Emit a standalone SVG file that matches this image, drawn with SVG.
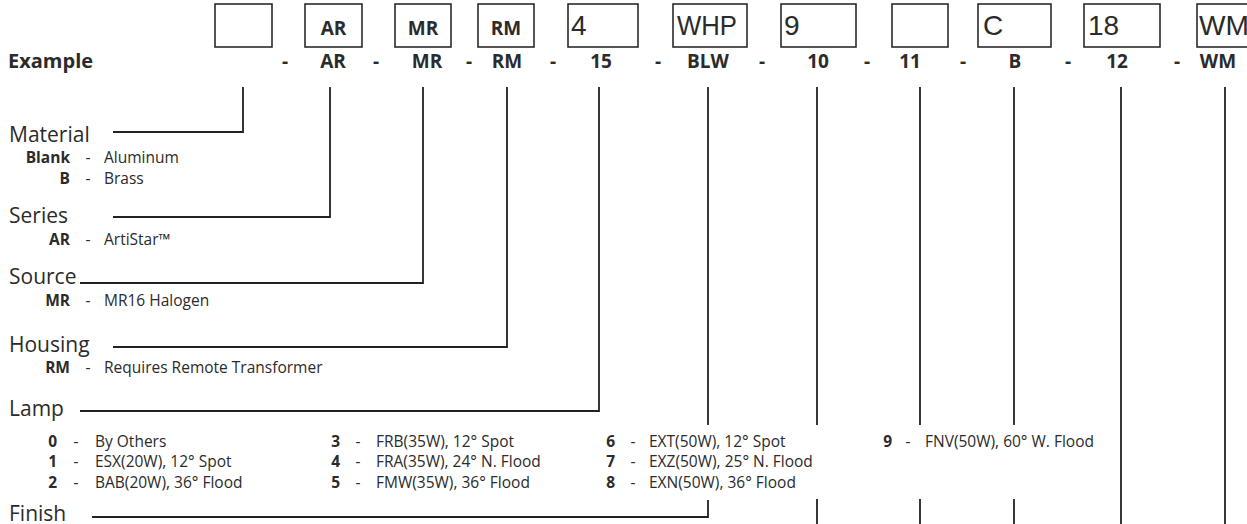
<svg xmlns="http://www.w3.org/2000/svg" width="1247" height="524" viewBox="0 0 1247 524">
<style>
text{font-family:"Open Sans","Noto Sans","Liberation Sans",sans-serif;fill:#2b2b2b}
.box{fill:none;stroke:#2b2b2b;stroke-width:1.6}
.bx{font-size:19px;font-weight:700;text-anchor:middle}
.bf{font-size:28px;font-family:"Liberation Sans",Arial,sans-serif}
.ex{font-size:19px;font-weight:700;text-anchor:middle}
.lbl{font-size:21px}
.code{font-size:15.5px;font-weight:700;text-anchor:end}
.dash{font-size:15.5px;text-anchor:middle}
.opt{font-size:15.5px}
.conn path{fill:none;stroke:#222;stroke-width:1.8}
</style>
<rect width="1247" height="524" fill="#fff"/>
<g id="boxes">
<g id="box-material"><rect class="box" x="215" y="4" width="57" height="43"/></g>
<g id="box-series"><rect class="box" x="305" y="4" width="57" height="43"/><text class="bx" x="333.5" y="35">AR</text></g>
<g id="box-source"><rect class="box" x="395" y="4" width="56" height="43"/><text class="bx" x="423" y="35">MR</text></g>
<g id="box-housing"><rect class="box" x="478" y="4" width="56" height="43"/><text class="bx" x="506" y="35">RM</text></g>
<g id="box-lamp"><rect class="box" x="568" y="4" width="70" height="43"/><text class="bf" x="571" y="35">4</text></g>
<g id="box-finish"><rect class="box" x="673" y="4" width="74" height="43"/><text class="bf" x="677" y="35" textLength="60" lengthAdjust="spacingAndGlyphs">WHP</text></g>
<g id="box-10"><rect class="box" x="781" y="4" width="75" height="43"/><text class="bf" x="784" y="35">9</text></g>
<g id="box-11"><rect class="box" x="892" y="4" width="56" height="43"/></g>
<g id="box-b"><rect class="box" x="978" y="4" width="73" height="43"/><text class="bf" x="983" y="35">C</text></g>
<g id="box-12"><rect class="box" x="1084" y="4" width="76" height="43"/><text class="bf" x="1088" y="35">18</text></g>
<g id="box-wm"><rect class="box" x="1197" y="4" width="56" height="43"/><text class="bf" x="1199" y="35" textLength="50" lengthAdjust="spacingAndGlyphs">WM</text></g>
</g>
<g id="example-row">
<text x="8" y="68" style="font-size:20px;font-weight:700">Example</text>
<text class="ex" x="285" y="68">-</text>
<text class="ex" x="333" y="68">AR</text>
<text class="ex" x="376" y="68">-</text>
<text class="ex" x="427" y="68">MR</text>
<text class="ex" x="469" y="68">-</text>
<text class="ex" x="507" y="68">RM</text>
<text class="ex" x="553" y="68">-</text>
<text class="ex" x="601" y="68">15</text>
<text class="ex" x="658" y="68">-</text>
<text class="ex" x="708" y="68">BLW</text>
<text class="ex" x="762" y="68">-</text>
<text class="ex" x="818" y="68">10</text>
<text class="ex" x="867" y="68">-</text>
<text class="ex" x="910" y="68">11</text>
<text class="ex" x="963" y="68">-</text>
<text class="ex" x="1015" y="68">B</text>
<text class="ex" x="1068" y="68">-</text>
<text class="ex" x="1117" y="68">12</text>
<text class="ex" x="1177" y="68">-</text>
<text class="ex" x="1218" y="68">WM</text>
</g>
<g id="material">
<text class="lbl" x="9" y="142">Material</text>
<text class="code" x="70" y="163">Blank</text><text class="dash" x="88" y="163">-</text><text class="opt" x="104" y="163">Aluminum</text>
<text class="code" x="70" y="184">B</text><text class="dash" x="88" y="184">-</text><text class="opt" x="104" y="184">Brass</text>
</g>
<g id="series">
<text class="lbl" x="9" y="223">Series</text>
<text class="code" x="70" y="245">AR</text><text class="dash" x="88" y="245">-</text><text class="opt" x="104" y="245">ArtiStar™</text>
</g>
<g id="source">
<text class="lbl" x="9" y="284">Source</text>
<text class="code" x="70" y="306">MR</text><text class="dash" x="88" y="306">-</text><text class="opt" x="104" y="306">MR16 Halogen</text>
</g>
<g id="housing">
<text class="lbl" x="9" y="352">Housing</text>
<text class="code" x="70" y="373">RM</text><text class="dash" x="88" y="373">-</text><text class="opt" x="104" y="373">Requires Remote Transformer</text>
</g>
<g id="lamp">
<text class="lbl" x="9" y="416">Lamp</text>
<text class="code" x="57" y="447">0</text><text class="dash" x="76" y="447">-</text><text class="opt" x="95" y="447">By Others</text>
<text class="code" x="57" y="467">1</text><text class="dash" x="76" y="467">-</text><text class="opt" x="95" y="467">ESX(20W), 12° Spot</text>
<text class="code" x="57" y="488">2</text><text class="dash" x="76" y="488">-</text><text class="opt" x="95" y="488">BAB(20W), 36° Flood</text>
<text class="code" x="340" y="447">3</text><text class="dash" x="358" y="447">-</text><text class="opt" x="376" y="447">FRB(35W), 12° Spot</text>
<text class="code" x="340" y="467">4</text><text class="dash" x="358" y="467">-</text><text class="opt" x="376" y="467">FRA(35W), 24° N. Flood</text>
<text class="code" x="340" y="488">5</text><text class="dash" x="358" y="488">-</text><text class="opt" x="376" y="488">FMW(35W), 36° Flood</text>
<text class="code" x="615" y="447">6</text><text class="dash" x="633" y="447">-</text><text class="opt" x="649" y="447">EXT(50W), 12° Spot</text>
<text class="code" x="615" y="467">7</text><text class="dash" x="633" y="467">-</text><text class="opt" x="649" y="467">EXZ(50W), 25° N. Flood</text>
<text class="code" x="615" y="488">8</text><text class="dash" x="633" y="488">-</text><text class="opt" x="649" y="488">EXN(50W), 36° Flood</text>
<text class="code" x="892" y="447">9</text><text class="dash" x="908" y="447">-</text><text class="opt" x="925" y="447">FNV(50W), 60° W. Flood</text>
</g>
<g id="finish">
<text class="lbl" x="9" y="521">Finish</text>
</g>
<g id="connectors" class="conn">
<path d="M113,132 H243 V87"/>
<path d="M113,217 H330 V87"/>
<path d="M80,283 H423 V87"/>
<path d="M113,347 H507 V87"/>
<path d="M80,411 H599 V87"/>
<path d="M92,517 H708 V500 M708,425 V87"/>
<path d="M817,87 V425 M817,499 V524"/>
<path d="M920,87 V425 M920,499 V524"/>
<path d="M1014,87 V425 M1014,499 V524"/>
<path d="M1121,87 V524"/>
<path d="M1225,87 V524"/>
</g>
</svg>
